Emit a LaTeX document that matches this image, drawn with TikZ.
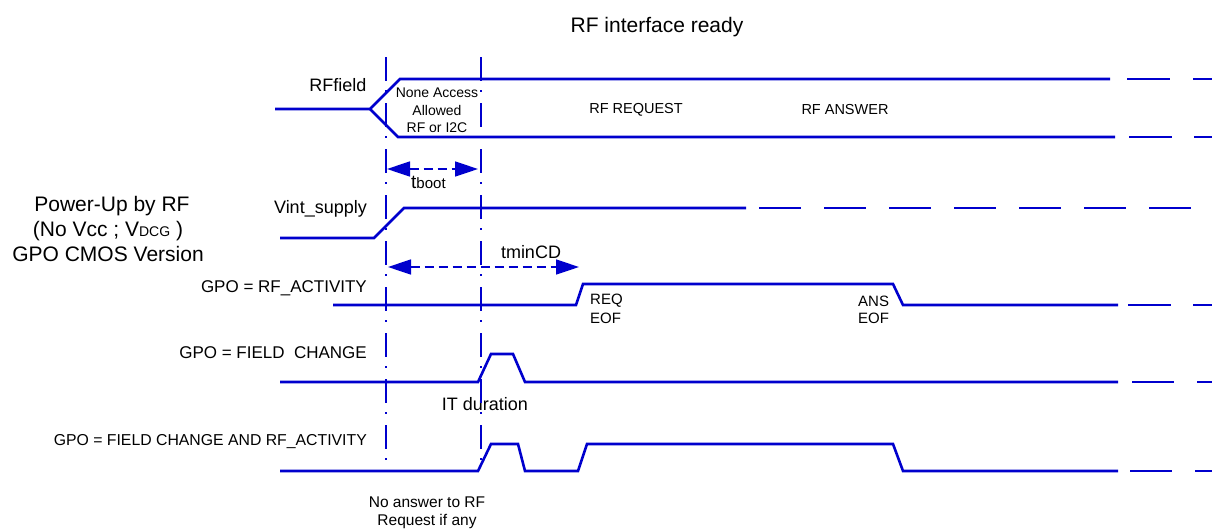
\documentclass[tikz,border=0pt]{standalone}
\usepackage{fontspec}
\setmainfont{Liberation Sans}
\usetikzlibrary{arrows.meta}
\definecolor{sig}{RGB}{0,0,205}
\newcommand\fsz[1]{\fontsize{#1}{#1}\selectfont}
\begin{document}
\begin{tikzpicture}[x=1pt,y=-1pt,
  wave/.style={draw=sig,line width=2.6pt,line join=miter},
  vline/.style={draw=sig,line width=2.6pt,dash pattern=on 24pt off 9pt on 2pt off 11pt},
  dim/.style={draw=sig,line width=1.6pt,dash pattern=on 9pt off 5pt,
    {Triangle[length=23pt,width=15pt]}-{Triangle[length=23pt,width=15pt]}},
  lbl/.style={inner sep=0pt,text=black,align=center}]
\useasboundingbox (0,0) rectangle (1212,531);

% title and left block
\node[lbl,font=\fsz{21}] (title) at (657,27) {RF interface ready};
\node[lbl,font=\fsz{21}] (pu1) at (112,206) {Power-Up by RF};
\node[lbl,font=\fsz{21}] (pu2) at (108,231) {(No Vcc ; V{\fsz{14}DCG} )};
\node[lbl,font=\fsz{21}] (pu3) at (108,254) {GPO CMOS Version};

% signal names
\node[lbl,font=\fsz{18}] (rff) at (338,85) {RFfield};
\node[lbl,font=\fsz{18},anchor=east] (vint) at (367,209) {Vint\_supply};
\node[lbl,font=\fsz{17},anchor=east] (gpo1) at (367,288) {GPO = RF\_ACTIVITY};
\node[lbl,font=\fsz{17},anchor=east] (gpo2) at (367,353) {GPO = FIELD\ \ CHANGE};
\node[lbl,font=\fsz{15.8},anchor=east] (gpo3) at (367,442) {GPO = FIELD CHANGE AND RF\_ACTIVITY};

% inner labels
\node[lbl,font=\fsz{14}] (na1) at (437,93) {None Access};
\node[lbl,font=\fsz{14}] (na2) at (437,110) {Allowed};
\node[lbl,font=\fsz{14}] (na3) at (437,128) {RF or I2C};
\node[lbl,font=\fsz{14.5}] (req) at (636,110) {RF REQUEST};
\node[lbl,font=\fsz{14.5}] (ans) at (845,110) {RF ANSWER};
\node[lbl,font=\fsz{15},anchor=west] (reqa) at (590,301) {REQ};
\node[lbl,font=\fsz{15},anchor=west] (reqb) at (590,318) {EOF};
\node[lbl,font=\fsz{15},anchor=west] (ansa) at (858,301) {ANS};
\node[lbl,font=\fsz{15},anchor=west] (ansb) at (858,318) {EOF};
\node[lbl,font=\fsz{19},anchor=base west] (tboot) at (411,188) {t{\fsz{15}boot}};
\node[lbl,font=\fsz{18}] (tmin) at (531,252) {tminCD};
\node[lbl,font=\fsz{18}] (itd) at (485,404) {IT duration};
\node[lbl,font=\fsz{15.5}] (noa1) at (427,502) {No answer to RF};
\node[lbl,font=\fsz{15.5}] (noa2) at (427,521) {Request if any};

% vertical markers
\draw[vline] (386,57) -- (386,460);
\draw[vline] (481,57) -- (481,460);

% RF field
\draw[wave] (275,109) -- (370,109) -- (400,79) -- (1110,79);
\draw[wave] (370,109) -- (398,137) -- (1115,137);
\draw[wave] (1127,79) -- (1170,79) (1193,79) -- (1212,79);
\draw[wave] (1129,137) -- (1172,137) (1194,137) -- (1212,137);

% Vint supply
\draw[wave] (280,238) -- (374,238) -- (404,208) -- (746,208);
\draw[wave,dash pattern=on 42pt off 23pt] (759,208) -- (1191,208);

% RF activity
\draw[wave] (333,305) -- (576,305) -- (583,284) -- (893,284) -- (903,305) -- (1118,305);
\draw[wave] (1128,305) -- (1171,305) (1193,305) -- (1212,305);

% field change
\draw[wave] (280,382) -- (478,382) -- (491,354) -- (513,354) -- (525,382) -- (1118,382);
\draw[wave] (1132,382) -- (1174,382) (1197,382) -- (1212,382);

% field change and rf activity
\draw[wave] (280,471) -- (478,471) -- (491,444) -- (518,444) -- (525,471) -- (578,471)
  -- (587,444) -- (893,444) -- (903,471) -- (1118,471);
\draw[wave] (1130,471) -- (1172,471) (1195,471) -- (1212,471);

% timing arrows
\coordinate (tbL) at (387,169);
\coordinate (tbR) at (478,169);
\coordinate (tmL) at (388,267);
\coordinate (tmR) at (579,267);
\draw[dim] (tbL) -- (tbR);
\draw[dim] (tmL) -- (tmR);
\end{tikzpicture}
\end{document}
